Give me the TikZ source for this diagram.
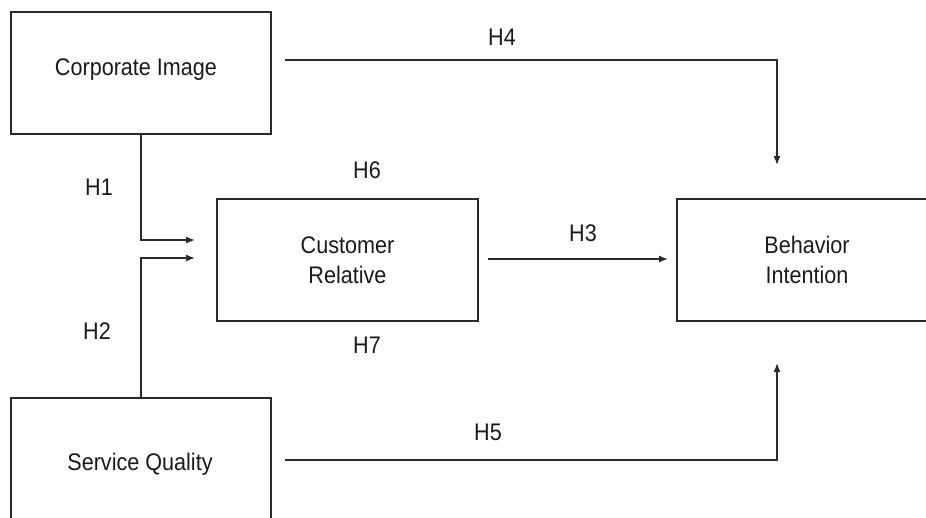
\documentclass[tikz,border=0pt]{standalone}
\usepackage{fontspec}
\setmainfont[FakeStretch=0.9]{Liberation Sans}
\usetikzlibrary{arrows.meta}
\definecolor{ink}{HTML}{2A2A2A}
\definecolor{txt}{HTML}{1A1A1A}
\begin{document}
\begin{tikzpicture}[x=1pt,y=-1pt,
  box/.style={draw=ink,line width=1.4pt,minimum width=260pt,minimum height=122pt,inner sep=0pt,align=center,text=txt,font=\fontsize{24}{30}\selectfont},
  btxt/.style={text=txt,font=\fontsize{24}{30}\selectfont,inner sep=0pt},
  lbl/.style={text=txt,font=\fontsize{24}{28}\selectfont,inner sep=0pt},
  conn/.style={draw=ink,line width=1.3pt},
  arr/.style={conn,-{Latex[length=9pt,width=7pt]}}]
\useasboundingbox (0,0) rectangle (926,517);
\clip (0,0) rectangle (926,517);
\node[box] (ci) at (141,73) {};
\node[btxt] (cit) at (136,70) {Corporate Image};
\node[box,minimum width=261pt] (cr) at (347.5,260) {Customer\\Relative};
\node[box] (bi) at (807,260) {Behavior\\Intention};
\node[box] (sq) at (141,459) {};
\node[btxt] (sqt) at (140,464) {Service Quality};
\coordinate (h4s) at (285,60);
\coordinate (h4e) at (777,165);
\coordinate (h1e) at (195,240);
\coordinate (h2e) at (195,258);
\coordinate (h3s) at (488,259);
\coordinate (h3e) at (668,259);
\coordinate (h5s) at (285,460);
\coordinate (h5e) at (777,363);
\draw[arr] (h4s) -| (h4e);
\draw[arr] (ci.south) |- (h1e);
\draw[arr] (sq.north) |- (h2e);
\draw[arr] (h3s) -- (h3e);
\draw[arr] (h5s) -| (h5e);
\node[lbl] (l4) at (502,37) {H4};
\node[lbl] (l1) at (99,187) {H1};
\node[lbl] (l6) at (367,170) {H6};
\node[lbl] (l3) at (583,233) {H3};
\node[lbl] (l2) at (97,331) {H2};
\node[lbl] (l7) at (367,345) {H7};
\node[lbl] (l5) at (488,432) {H5};
\end{tikzpicture}
\end{document}
